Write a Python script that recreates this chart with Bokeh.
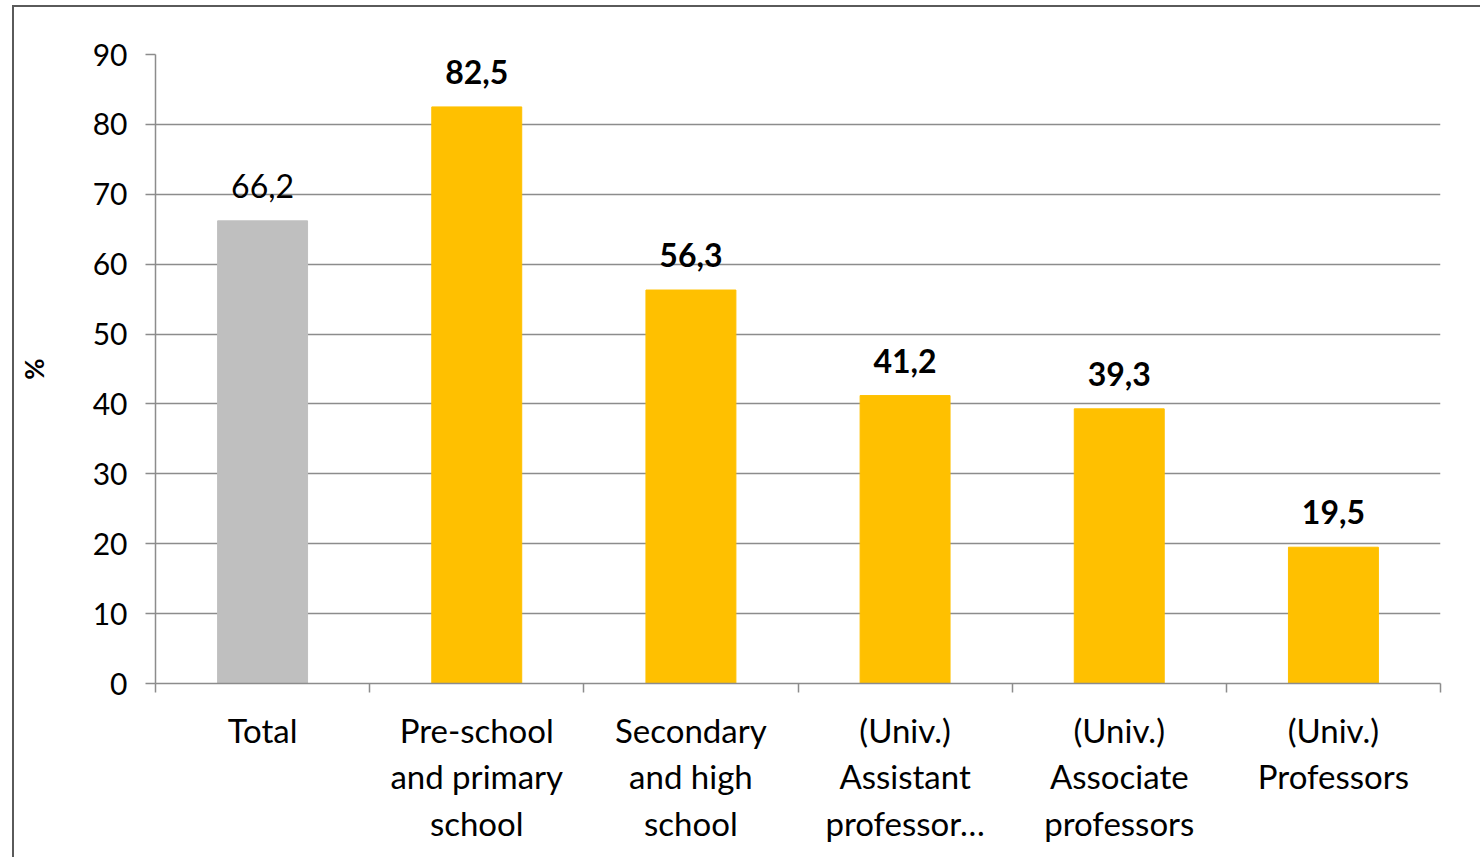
from bokeh.plotting import figure
from bokeh.models import ColumnDataSource, FixedTicker, Range1d
from bokeh.core.properties import value
from bokeh.embed import file_html
from bokeh.resources import INLINE

categories = ["Total", "Pre-school\nand primary\nschool", "Secondary\nand high\nschool",
              "(Univ.)\nAssistant\nprofessor\u2026", "(Univ.)\nAssociate\nprofessors", "(Univ.)\nProfessors"]
values = [66.2, 82.5, 56.3, 41.2, 39.3, 19.5]
colors = ["#BFBFBF", "#FFC000", "#FFC000", "#FFC000", "#FFC000", "#FFC000"]
label_bold = [False, True, True, True, True, True]
y_ticks = [0, 10, 20, 30, 40, 50, 60, 70, 80, 90]

FONT = "Lato"
xs = [i + 0.5 for i in range(len(categories))]
labels = [("%.1f" % v).replace(".", ",") for v in values]

src = ColumnDataSource(dict(x=xs, top=values, color=colors))
src_norm = ColumnDataSource(dict(
    x=[x for x, b in zip(xs, label_bold) if not b],
    top=[v for v, b in zip(values, label_bold) if not b],
    label=[l for l, b in zip(labels, label_bold) if not b]))
src_bold = ColumnDataSource(dict(
    x=[x for x, b in zip(xs, label_bold) if b],
    top=[v for v, b in zip(values, label_bold) if b],
    label=[l for l, b in zip(labels, label_bold) if b]))

p = figure(width=1468, height=852, output_backend="svg", toolbar_location=None,
           x_range=Range1d(0, 6), y_range=Range1d(0, 90),
           min_border_left=141, min_border_right=42, min_border_top=47, min_border_bottom=176)
p.styles = {"margin-left": "12px", "margin-top": "5px",
            "border-left": "2px solid #5a5a5a", "border-top": "2px solid #5a5a5a"}
p.outline_line_color = None
p.background_fill_color = "white"

p.vbar(x="x", top="top", width=0.42, color="color", source=src)
for s, style in ((src_norm, "normal"), (src_bold, "bold")):
    p.text(x="x", y="top", text="label", source=s, text_align="center",
           text_baseline="alphabetic", y_offset=-35, text_font=value(FONT),
           text_font_size="32px", text_font_style=style, text_color="black")

# x axis
xa = p.xaxis[0]
xa.ticker = FixedTicker(ticks=xs, minor_ticks=list(range(7)))
xa.major_label_overrides = {x: c for x, c in zip(xs, categories)}
xa.major_tick_in = 0
xa.major_tick_out = 0
xa.minor_tick_in = 0
xa.minor_tick_out = 9
xa.minor_tick_line_color = "#8c8c8c"
xa.minor_tick_line_width = 1.5
xa.axis_line_color = "#8c8c8c"
xa.axis_line_width = 1.5
xa.major_label_standoff = 17
xa.major_label_text_font = FONT
xa.major_label_text_font_size = "33px"
xa.major_label_text_color = "black"
xa.major_label_text_line_height = 1.17
xa.major_label_orientation = "horizontal"

# y axis
ya = p.yaxis[0]
ya.ticker = FixedTicker(ticks=y_ticks)
ya.minor_tick_line_color = None
ya.major_tick_in = 0
ya.major_tick_out = 10
ya.major_tick_line_color = "#8c8c8c"
ya.major_tick_line_width = 1.5
ya.axis_line_color = "#8c8c8c"
ya.axis_line_width = 1.5
ya.major_label_standoff = 18
ya.major_label_text_font = FONT
ya.major_label_text_font_size = "30px"
ya.major_label_text_color = "black"
ya.axis_label = "%"
ya.axis_label_text_font = FONT
ya.axis_label_text_font_size = "26px"
ya.axis_label_text_font_style = "bold"
ya.axis_label_text_color = "black"
ya.axis_label_standoff = 40

p.xgrid.grid_line_color = None
p.ygrid.grid_line_color = "#8c8c8c"
p.ygrid.grid_line_width = 1.5
p.ygrid.grid_line_alpha = 1.0

open("out.html", "w").write(file_html(p, INLINE))
